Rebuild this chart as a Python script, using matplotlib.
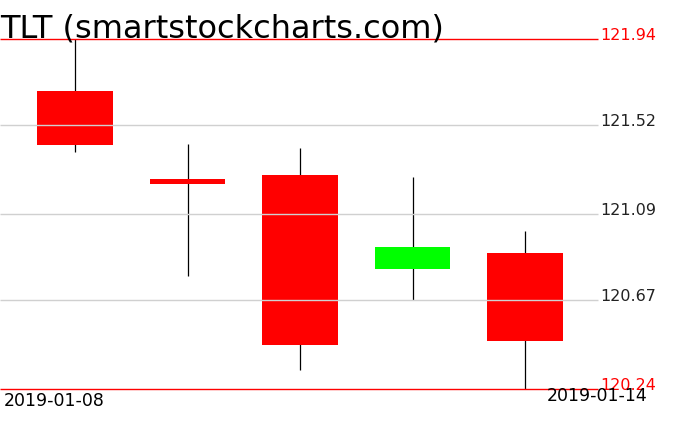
import matplotlib
matplotlib.use("Agg")
import matplotlib.pyplot as plt
from matplotlib.patches import Rectangle

# OHLC values (TLT, 2019-01-08 .. 2019-01-14)
opens = [121.687, 121.260, 121.281, 120.824, 120.902]
highs = [121.940, 121.430, 121.411, 121.270, 121.007]
lows = [121.391, 120.790, 120.334, 120.674, 120.240]
closes = [121.427, 121.237, 120.455, 120.931, 120.475]

grid_levels = [121.52, 121.09, 120.67]
limit_levels = [120.24, 121.94]
first_date = "2019-01-08"
last_date = "2019-01-14"
title = "TLT (smartstockcharts.com)"

W, H = 676, 431
fig = plt.figure(figsize=(W / 100, H / 100), dpi=100)
ax = fig.add_axes([0, 0, 1, 1])
ax.set_axis_off()

# pixel mapping: candle i centred at 75 + 112.5*i px; 121.94 at y=40, 120.24 at y=390
px_per_idx = 112.5
x0 = -75 / px_per_idx
x1 = (W - 75) / px_per_idx
ax.set_xlim(x0, x1)
px_per_unit = 350 / (121.94 - 120.24)
ax.set_ylim(121.94 - (H - 40) / px_per_unit, 121.94 + 40 / px_per_unit)

line_end = (598 - 75) / px_per_idx
body_w = 0.67

for i, (o, h, l, c) in enumerate(zip(opens, highs, lows, closes)):
    ax.vlines(i, l, h, color="black", linewidth=0.9, zorder=2)
    color = "#00ff00" if c >= o else "#ff0000"
    ax.add_patch(Rectangle((i - body_w / 2, min(o, c)), body_w, abs(c - o),
                           facecolor=color, edgecolor="none", zorder=3))

label_x = (600 - 75) / px_per_idx
for lvl in grid_levels:
    ax.hlines(lvl, x0, line_end, color="#d0d0d0", linewidth=1.0, zorder=4)
    ax.text(label_x, lvl, f"{lvl:.2f}", color="#222222", fontsize=11.5,
            va="baseline", ha="left", zorder=5)
for lvl in limit_levels:
    ax.hlines(lvl, x0, line_end, color="#ff0000", linewidth=1.0, zorder=4)
    ax.text(label_x, lvl, f"{lvl:.2f}", color="#ff0000", fontsize=11.5,
            va="baseline", ha="left", zorder=5)

fig.text(4 / W, 1 - 406 / H, first_date, fontsize=12.5, va="baseline", ha="left")
fig.text(647 / W, 1 - 401 / H, last_date, fontsize=12.5, va="baseline", ha="right")
fig.text(0, 1 - 37 / H, title, fontsize=23, va="baseline", ha="left")

fig.savefig("out.png", dpi=100)
